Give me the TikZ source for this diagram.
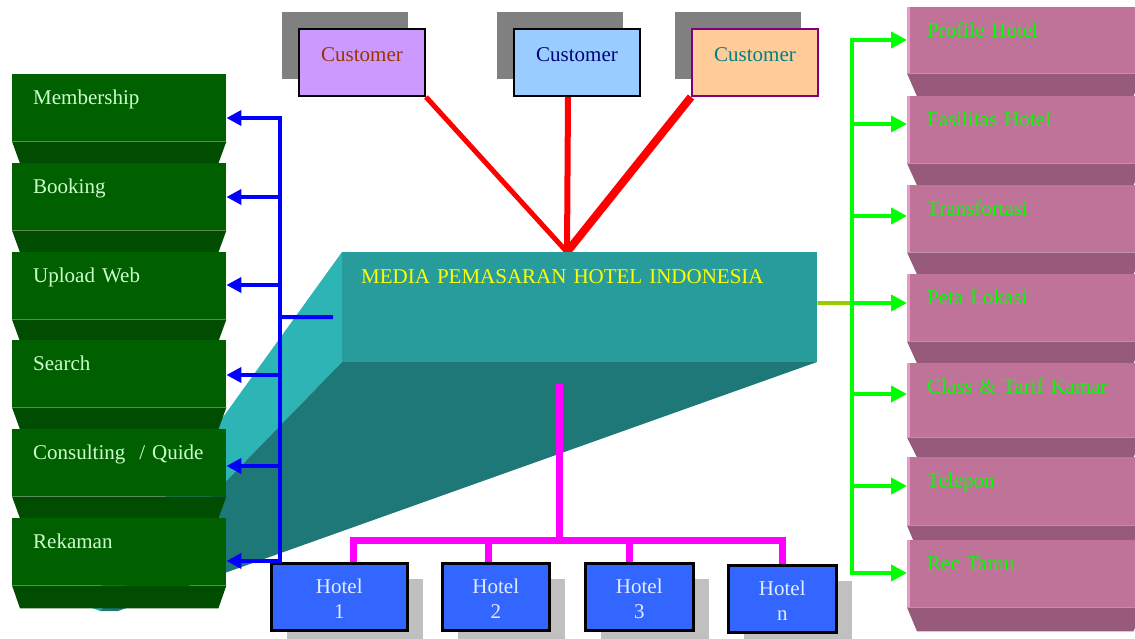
\documentclass[tikz,border=0pt]{standalone}
\usepackage{fontspec}
\setmainfont{Liberation Serif}
\usetikzlibrary{arrows.meta}
\usetikzlibrary{shadows}
\definecolor{shgray}{HTML}{808080}
\definecolor{hgray}{HTML}{C0C0C0}
\definecolor{cpurple}{HTML}{CC99FF}
\definecolor{cbrown}{HTML}{993300}
\definecolor{cblue}{HTML}{99CCFF}
\definecolor{cnavy}{HTML}{000080}
\definecolor{corange}{HTML}{FFCC99}
\definecolor{cviolet}{HTML}{800080}
\definecolor{cteal}{HTML}{008080}
\definecolor{tfront}{HTML}{289B9B}
\definecolor{tleft}{HTML}{2DB4B4}
\definecolor{tdark}{HTML}{1F7878}
\definecolor{myellow}{HTML}{FFFF00}
\definecolor{gfront}{HTML}{006000}
\definecolor{gshade}{HTML}{004C00}
\definecolor{gtext}{HTML}{CCFFCC}
\definecolor{pfront}{HTML}{C07399}
\definecolor{pshade}{HTML}{985A7A}
\definecolor{pedge}{HTML}{E89AC8}
\definecolor{glime}{HTML}{00FF00}
\definecolor{hblue}{HTML}{3366FF}
\definecolor{htext}{HTML}{E0ECFF}
\definecolor{ygreen}{HTML}{99CC00}
\definecolor{mag}{HTML}{FF00FF}
\definecolor{pblue}{HTML}{0000FF}
\definecolor{pred}{HTML}{FF0000}
\newcommand\lx{280}
\newcommand\rx{852}

\begin{document}
\begin{tikzpicture}[x=1pt, y=-1pt, font=\fontsize{21}{25}\selectfont,
    cust/.style={anchor=north west, inner sep=0pt, minimum width=126pt, text height=33pt, text depth=34pt, align=center, draw, line width=2pt, drop shadow={shadow xshift=-17pt, shadow yshift=17pt, opacity=1, fill=shgray}},
    media/.style={anchor=north west, fill=tfront, text=myellow, inner xsep=19pt, inner ysep=0pt, text width=437pt, text height=31pt, text depth=79pt, align=left},
    gbox/.style={anchor=north west, fill=gfront, text=gtext, inner xsep=21pt, inner ysep=0pt, text width=172pt, text height=30pt, text depth=37pt, align=left},
    pbox/.style={anchor=north west, fill=pfront, text=glime, inner xsep=20pt, inner ysep=0pt, text width=196pt, text height=30pt, text depth=37pt, align=left, path picture={\fill[pedge] (path picture bounding box.north west) rectangle ([xshift=3pt]path picture bounding box.south west);}},
    hotel/.style={anchor=north west, fill=hblue, text=htext, draw, line width=2.5pt, inner sep=0pt, text height=55pt, text depth=12pt, align=center, drop shadow={shadow xshift=16pt, shadow yshift=-16pt, opacity=1, fill=hgray}},
    bline/.style={pblue, line width=4pt},
    barrow/.style={pblue, line width=4pt, -{Triangle[length=15pt,width=15pt]}},
    gline/.style={glime, line width=4pt},
    garrow/.style={glime, line width=4pt, -{Triangle[length=16pt,width=16pt]}},
    mline/.style={mag, line width=7pt}]

    \useasboundingbox (0,0) rectangle (1135,639);

    % customers
    \node at (298,28) [cust, fill=cpurple, text=cbrown] (c1) {Customer};
    \node at (513,28) [cust, fill=cblue, text=cnavy] (c2) {Customer};
    \node at (691,28) [cust, fill=corange, draw=cviolet, text=cteal] (c3) {Customer};

    \coordinate (hub) at (567,252);
    \draw[pred, line width=5pt] (c1.south east) -- (hub);
    \draw[pred, line width=6pt] ([xshift=-9pt]c2.south) -- (hub);
    \draw[pred, line width=8pt] (c3.south west) -- (hub);

    % the block
    \fill[tleft] (342,252) -- (342,362) -- (100,611) -- (87,606) -- cycle;
    \fill[tdark] (342,362) -- (817,362) -- (118,611) -- (100,611) -- cycle;
    \node at (342,252) [media] (media) {MEDIA PEMASARAN HOTEL INDONESIA};

    % left menu
    \node at (12,74) [gbox] (m1) {Membership};
    \fill[gshade] (m1.south west) -- (m1.south east) -- ++(-8,22) -- ([xshift=8pt,yshift=-22pt]m1.south west) -- cycle;
    \node at (12,163) [gbox] (m2) {Booking};
    \fill[gshade] (m2.south west) -- (m2.south east) -- ++(-8,22) -- ([xshift=8pt,yshift=-22pt]m2.south west) -- cycle;
    \node at (12,252) [gbox] (m3) {Upload Web};
    \fill[gshade] (m3.south west) -- (m3.south east) -- ++(-8,22) -- ([xshift=8pt,yshift=-22pt]m3.south west) -- cycle;
    \node at (12,340) [gbox] (m4) {Search};
    \fill[gshade] (m4.south west) -- (m4.south east) -- ++(-8,22) -- ([xshift=8pt,yshift=-22pt]m4.south west) -- cycle;
    \node at (12,429) [gbox] (m5) {Consulting\ \ / Quide};
    \fill[gshade] (m5.south west) -- (m5.south east) -- ++(-8,22) -- ([xshift=8pt,yshift=-22pt]m5.south west) -- cycle;
    \node at (12,518) [gbox] (m6) {Rekaman};
    \fill[gshade] (m6.south west) -- (m6.south east) -- ++(-8,23) -- ([xshift=8pt,yshift=-23pt]m6.south west) -- cycle;

    % right menu
    \node at (907,7) [pbox, text depth=36pt] (p1) {Profile Hotel};
    \fill[pshade] (p1.south west) -- (p1.south east) -- ++(-10,23) -- ([xshift=10pt,yshift=-23pt]p1.south west) -- cycle;
    \node at (907,96) [pbox] (p2) {Fasilitas Hotel};
    \fill[pshade] (p2.south west) -- (p2.south east) -- ++(-10,22) -- ([xshift=10pt,yshift=-22pt]p2.south west) -- cycle;
    \node at (907,185) [pbox] (p3) {Transfortasi};
    \fill[pshade] (p3.south west) -- (p3.south east) -- ++(-10,22) -- ([xshift=10pt,yshift=-22pt]p3.south west) -- cycle;
    \node at (907,274) [pbox] (p4) {Peta Lokasi};
    \fill[pshade] (p4.south west) -- (p4.south east) -- ++(-10,22) -- ([xshift=10pt,yshift=-22pt]p4.south west) -- cycle;
    \node at (907,363) [pbox, text depth=44pt] (p5) {Class \& Tarif Kamar};
    \fill[pshade] (p5.south west) -- (p5.south east) -- ++(-10,20) -- ([xshift=10pt,yshift=-20pt]p5.south west) -- cycle;
    \node at (907,457) [pbox, text depth=38pt] (p6) {Telepon};
    \fill[pshade] (p6.south west) -- (p6.south east) -- ++(-10,24) -- ([xshift=10pt,yshift=-24pt]p6.south west) -- cycle;
    \node at (907,540) [pbox] (p7) {Rec Tamu};
    \fill[pshade] (p7.south west) -- (p7.south east) -- ++(-10,24) -- ([xshift=10pt,yshift=-24pt]p7.south west) -- cycle;

    % hotels
    \node at (270,562) [hotel, minimum width=136pt] (h1) {Hotel\\1};
    \node at (441,562) [hotel, minimum width=107pt] (h2) {Hotel\\2};
    \node at (584,562) [hotel, minimum width=108pt] (h3) {Hotel\\3};
    \node at (727,564) [hotel, minimum width=108pt] (hn) {Hotel\\n};

    %Blue links
    \coordinate (b1) at (\lx,118);
    \coordinate (b2) at (\lx,197);
    \coordinate (b3) at (\lx,285);
    \coordinate (bs) at (\lx,317);
    \coordinate (b4) at (\lx,375);
    \coordinate (b5) at (\lx,466);
    \coordinate (b6) at (\lx,561);
    \draw[bline, line cap=rect] (b1) -- (b6);
    \draw[barrow] (b1) -- (b1 -| m1.east);
    \draw[barrow] (b2) -- (b2 -| m2.east);
    \draw[barrow] (b3) -- (b3 -| m3.east);
    \draw[barrow] (b4) -- (b4 -| m4.east);
    \draw[barrow] (b5) -- (b5 -| m5.east);
    \draw[barrow] (b6) -- (b6 -| m6.east);
    \draw[bline] (bs) -- ([xshift=-9pt,yshift=-10pt]media.west);

    %Green links
    \coordinate (g1) at (\rx,40);
    \coordinate (g2) at (\rx,124);
    \coordinate (g3) at (\rx,216);
    \coordinate (g4) at (\rx,303);
    \coordinate (g5) at (\rx,394);
    \coordinate (g6) at (\rx,486);
    \coordinate (g7) at (\rx,573);
    \draw[ygreen, line width=4pt] ([yshift=4pt]media.east) -- (g4);
    \draw[gline, line cap=rect] (g1) -- (g7);
    \draw[garrow] (g1) -- (g1 -| p1.west);
    \draw[garrow] (g2) -- (g2 -| p2.west);
    \draw[garrow] (g3) -- (g3 -| p3.west);
    \draw[garrow] (g4) -- (g4 -| p4.west);
    \draw[garrow] (g5) -- (g5 -| p5.west);
    \draw[garrow] (g6) -- (g6 -| p6.west);
    \draw[garrow] (g7) -- (g7 -| p7.west);

    % hotel bus
    \coordinate (mt) at (559,384);
    \coordinate (mb) at (559,540);
    \draw[mline] (mt) -- (mb);
    \draw[mline] ([xshift=14pt]h1.north) |- (mb) -| (hn.north);
    \draw[mline] ([xshift=-7pt]h2.north) -- ++(0,-22);
    \draw[mline] ([xshift=-10pt]h3.north) -- ++(0,-22);
\end{tikzpicture}
\end{document}
